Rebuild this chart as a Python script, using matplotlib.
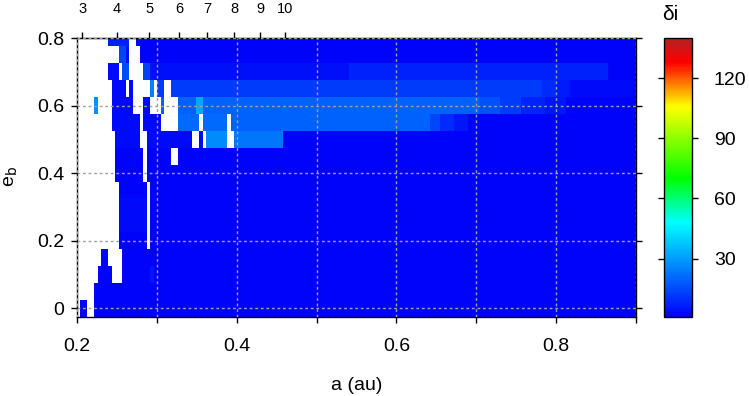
import numpy as np
import matplotlib
matplotlib.use("Agg")
import matplotlib.pyplot as plt
from matplotlib.colors import LinearSegmentedColormap

plt.rcParams['font.family'] = ['Liberation Sans', 'DejaVu Sans']

# grid of the map
a_edges_lo, a_edges_hi, n_cols = 0.2, 0.9, 160
e_rows = [0.0, 0.05, 0.1, 0.15, 0.2, 0.25, 0.3, 0.35, 0.4,
          0.45, 0.5, 0.55, 0.6, 0.65, 0.7, 0.75, 0.8]

# delta i per row: (a_start, a_end, value), everything else has no data (white)
row_000 = [(0.204, 0.2125, 2), (0.221, 0.9, 2)]
row_005 = [(0.221, 0.9, 2)]
row_010 = [(0.226, 0.243, 2), (0.256, 0.290, 2), (0.290, 0.295, 5), (0.295, 0.9, 2)]
row_015 = [(0.230, 0.239, 2), (0.256, 0.9, 2)]
row_020 = [(0.251, 0.286, 2), (0.290, 0.9, 2)]
row_025 = [(0.251, 0.286, 3), (0.290, 0.9, 2)]
row_030 = [(0.251, 0.286, 3), (0.290, 0.9, 2)]
row_035 = [(0.251, 0.286, 2), (0.290, 0.9, 2)]
row_040 = [(0.248, 0.281, 2), (0.286, 0.9, 2)]
row_045 = [(0.248, 0.281, 2), (0.286, 0.320, 2), (0.325, 0.9, 2)]
row_050 = [(0.248, 0.278, 3), (0.286, 0.345, 3), (0.355, 0.359, 3),
           (0.364, 0.389, 27), (0.398, 0.458, 23), (0.458, 0.9, 2)]
row_055 = [(0.243, 0.278, 3), (0.281, 0.304, 3), (0.308, 0.311, 28),
           (0.329, 0.355, 21), (0.359, 0.389, 21), (0.394, 0.642, 19),
           (0.642, 0.655, 14), (0.655, 0.673, 9), (0.673, 0.692, 5), (0.692, 0.9, 2)]
row_060 = [(0.221, 0.226, 28), (0.243, 0.269, 3), (0.281, 0.290, 3),
           (0.304, 0.311, 19), (0.325, 0.350, 19), (0.350, 0.359, 32),
           (0.359, 0.701, 19), (0.701, 0.730, 16), (0.730, 0.755, 12),
           (0.755, 0.786, 8), (0.786, 0.814, 5), (0.814, 0.9, 2)]
row_065 = [(0.243, 0.260, 3), (0.265, 0.269, 3), (0.290, 0.295, 25),
           (0.299, 0.311, 12), (0.320, 0.780, 12), (0.780, 0.799, 9),
           (0.799, 0.817, 6), (0.817, 0.9, 3)]
row_070 = [(0.239, 0.251, 3), (0.256, 0.265, 15), (0.281, 0.290, 13),
           (0.290, 0.540, 4), (0.540, 0.864, 7), (0.864, 0.9, 2)]
row_075 = [(0.251, 0.260, 14), (0.260, 0.265, 4), (0.278, 0.9, 2)]
row_080 = [(0.239, 0.265, 7), (0.273, 0.9, 2)]

rows = [row_000, row_005, row_010, row_015, row_020, row_025, row_030, row_035,
        row_040, row_045, row_050, row_055, row_060, row_065, row_070, row_075, row_080]

# period ratios marked on top axis, binary semi-major axis (au)
p_ratio = [3, 4, 5, 6, 7, 8, 9, 10]
a_bin = 0.0993

# build map
a_edges = np.linspace(a_edges_lo, a_edges_hi, n_cols + 1)
a_mid = 0.5 * (a_edges[:-1] + a_edges[1:])
e_arr = np.array(e_rows)
e_edges = np.concatenate([[e_arr[0] - 0.025], 0.5 * (e_arr[:-1] + e_arr[1:]), [e_arr[-1] + 0.025]])
Z = np.full((len(e_rows), n_cols), np.nan)
for i, segs in enumerate(rows):
    for s, t, v in segs:
        Z[i, (a_mid >= s) & (a_mid < t)] = v
Z = np.ma.masked_invalid(Z)

vmin, vmax = 1, 140
stops = [(0, 0, 250), (0, 255, 255), (0, 255, 0), (255, 255, 0), (255, 0, 0), (178, 34, 34)]
pos = [1, 48, 70, 106, 128, 140]
cmap = LinearSegmentedColormap.from_list(
    "rb", [((p - vmin) / (vmax - vmin), tuple(c / 255 for c in col)) for p, col in zip(pos, stops)])

fig = plt.figure(figsize=(7.49, 3.96), dpi=100)
ax = fig.add_axes([0.1028, 0.2003, 0.7463, 0.7037])
mesh = ax.pcolormesh(a_edges, e_edges, Z, cmap=cmap, vmin=vmin, vmax=vmax, shading='flat')
ax.set_xlim(0.2, 0.9)
ax.set_ylim(-0.025, 0.8)

xt = [0.2, 0.3, 0.4, 0.5, 0.6, 0.7, 0.8, 0.9]
ax.set_xticks(xt)
ax.set_xticklabels(['0.2', '', '0.4', '', '0.6', '', '0.8', ''])
ax.set_yticks([0, 0.2, 0.4, 0.6, 0.8])
ax.set_yticklabels(['0', '0.2', '0.4', '0.6', '0.8'])
ax.tick_params(axis='x', direction='out', length=4, width=1, labelsize=14, pad=11)
ax.tick_params(axis='y', direction='out', length=4, width=1, labelsize=14, pad=5, right=True)
ax.grid(True, color='#a0a0a0', linestyle=(0, (2, 2)), linewidth=1)
ax.set_axisbelow(False)
for sp in ax.spines.values():
    sp.set_linewidth(1.0)
ax.set_xlabel('a (au)', fontsize=14, labelpad=16)
fig.text(0.004, 0.553, r'e$_{\rm b}$', fontsize=14, rotation=90, ha='left', va='center')

# top axis: period ratio positions
top = ax.secondary_xaxis('top')
top.set_xticks([a_bin * n ** (2 / 3) for n in p_ratio])
top.set_xticklabels([str(n) for n in p_ratio])
top.tick_params(direction='out', length=4, width=1, labelsize=10.5, pad=12)

cax = fig.add_axes([0.887, 0.2003, 0.0366, 0.7037])
cb = fig.colorbar(mesh, cax=cax)
cb.set_ticks([30, 60, 90, 120])
cax.tick_params(direction='out', length=4, width=1, labelsize=14, left=True, right=True, pad=12)
cb.outline.set_linewidth(1.0)
cax.text(-0.08, 1.05, 'δi', transform=cax.transAxes, fontsize=15, ha='left', va='bottom')

fig.savefig('out.png', dpi=100)
